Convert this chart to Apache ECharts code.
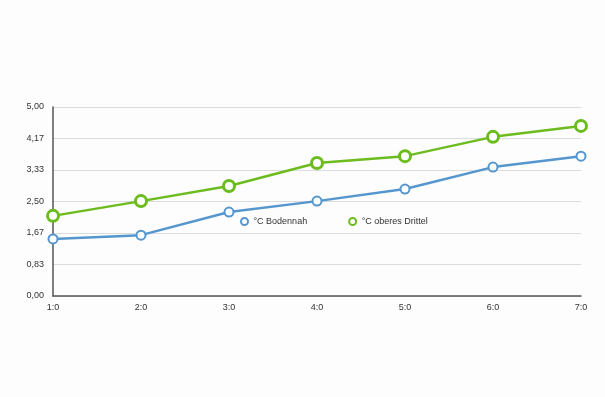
<!DOCTYPE html>
<html>
<head>
<meta charset="utf-8">
<script src="https://cdn.jsdelivr.net/npm/echarts@6/dist/echarts.min.js"></script>
<style>
  html, body { margin: 0; padding: 0; background: #fdfdfd; }
  #chart { width: 605px; height: 397px; }
</style>
</head>
<body>
<div id="chart"></div>
<script>
const categories = ["1:0", "2:0", "3:0", "4:0", "5:0", "6:0", "7:0"];
const bodennah = [1.51, 1.61, 2.22, 2.51, 2.83, 3.41, 3.70];
const oberesDrittel = [2.12, 2.51, 2.91, 3.52, 3.70, 4.21, 4.50];
const seriesNames = ["°C Bodennah", "°C oberes Drittel"];
const colors = ["#5596cf", "#6cbb1f"];

const chart = echarts.init(document.getElementById("chart"));

const fmt = (v) => v.toFixed(2).replace(".", ",");

chart.setOption({
  backgroundColor: "#fdfdfd",
  textStyle: { fontFamily: "Liberation Sans, Arial, sans-serif" },
  legend: {
    data: seriesNames.map((name, i) => ({
      name,
      icon: "circle",
      itemStyle: { color: "#fff", borderColor: colors[i], borderWidth: 2 }
    })),
    top: 212,
    left: 235,
    itemWidth: 8,
    itemHeight: 7,
    itemGap: 41,
    textStyle: { fontSize: 9, color: "#333" }
  },
  grid: { left: 53, right: 24, top: 107, bottom: 101 },
  xAxis: {
    type: "category",
    data: categories,
    boundaryGap: false,
    axisLine: { lineStyle: { color: "#555", width: 1.5 } },
    axisTick: { show: false },
    axisLabel: { fontSize: 9, color: "#333", margin: 7 },
    splitLine: { show: false }
  },
  yAxis: {
    type: "value",
    min: 0,
    max: 5,
    interval: 5 / 6,
    axisLine: { show: true, lineStyle: { color: "#555", width: 1.5 } },
    axisTick: { show: false },
    axisLabel: { fontSize: 9, color: "#333", margin: 9, formatter: fmt },
    splitLine: { lineStyle: { color: "#dcdcdc" } }
  },
  series: [
    {
      name: seriesNames[0],
      type: "line",
      data: bodennah,
      symbol: "circle",
      symbolSize: 9,
      color: colors[0],
      lineStyle: { width: 2.5, color: colors[0] },
      itemStyle: { color: "#fff", borderColor: colors[0], borderWidth: 2 }
    },
    {
      name: seriesNames[1],
      type: "line",
      data: oberesDrittel,
      symbol: "circle",
      symbolSize: 11,
      color: colors[1],
      lineStyle: { width: 2.5, color: colors[1] },
      itemStyle: { color: "#fff", borderColor: colors[1], borderWidth: 3 }
    }
  ]
});
</script>
</body>
</html>
